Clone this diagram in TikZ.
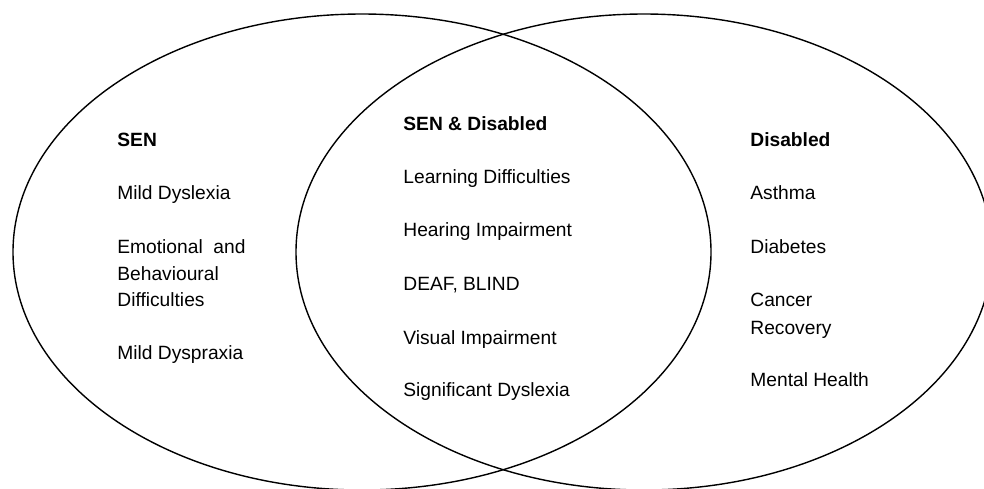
\documentclass[tikz,border=0pt]{standalone}
\usepackage{fontspec}
\setmainfont{Liberation Sans}
\usepackage{tikz}
\newcommand{\newItem}[4]{\node[item,#4](#1) at #2 {#3};}

\begin{document}
\begin{tikzpicture}[
    % one unit is one pixel of the page, y runs downwards
    x=0.5pt,y=-0.5pt,
    % Circle stroke
    set/.style={draw=black,line width=0.7pt},
    % Text lines, placed on their baseline
    item/.style={anchor=base west,inner sep=0pt,
      font=\fontsize{9.6}{11.5}\selectfont},
    head/.style={font=\fontsize{9.6}{11.5}\selectfont\bfseries}
    ]

    \useasboundingbox (0,0) rectangle (984,488);
    \clip (0,0) rectangle (984,488);

    % the two sets
    \draw[set] (362,252) ellipse [x radius=349, y radius=238];
    \draw[set] (644,252) ellipse [x radius=348, y radius=238];

    % left: SEN only
    \newItem{sen}{(117,146)}{SEN}{head}
    \newItem{dyslexia}{(117,199)}{Mild Dyslexia}{}
    \newItem{emotional}{(117,253)}{Emotional\ \ and}{}
    \newItem{behavioural}{(117,280)}{Behavioural}{}
    \newItem{difficulties}{(117,306)}{Difficulties}{}
    \newItem{dyspraxia}{(117,359)}{Mild Dyspraxia}{}

    % middle: both
    \newItem{both}{(403,130)}{SEN \& Disabled}{head}
    \newItem{learning}{(403,183)}{Learning Difficulties}{}
    \newItem{hearing}{(403,236)}{Hearing Impairment}{}
    \newItem{deafblind}{(403,290)}{DEAF, BLIND}{}
    \newItem{visual}{(403,344)}{Visual Impairment}{}
    \newItem{significant}{(403,396)}{Significant Dyslexia}{}

    % right: Disabled only
    \newItem{disabled}{(750,146)}{Disabled}{head}
    \newItem{asthma}{(750,199)}{Asthma}{}
    \newItem{diabetes}{(750,253)}{Diabetes}{}
    \newItem{cancer}{(750,306)}{Cancer}{}
    \newItem{recovery}{(750,334)}{Recovery}{}
    \newItem{mental}{(750,386)}{Mental Health}{}
  \end{tikzpicture}
\end{document}
